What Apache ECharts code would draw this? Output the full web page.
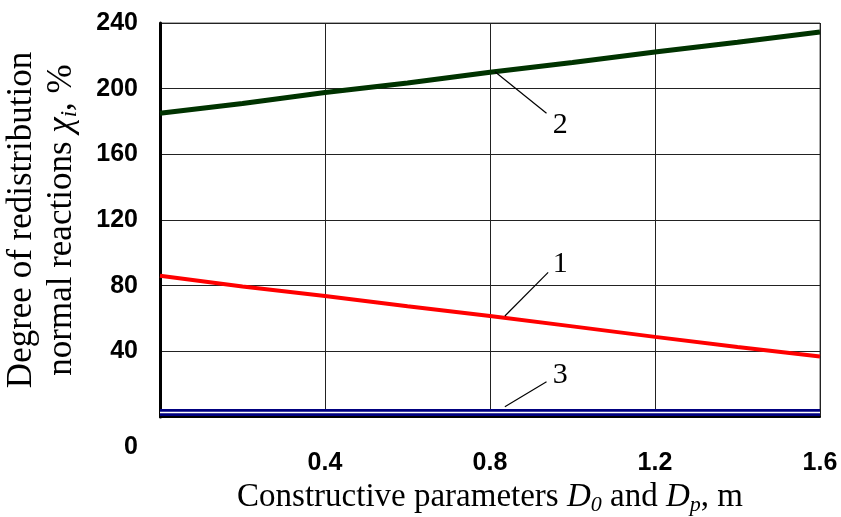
<!DOCTYPE html>
<html>
<head>
<meta charset="utf-8">
<script src="https://cdn.jsdelivr.net/npm/echarts@6/dist/echarts.min.js"></script>
<style>
html,body{margin:0;padding:0;background:#fff;}
#chart{width:841px;height:517px;}
</style>
</head>
<body>
<div id="chart"></div>
<script>
// ---- data ----
var xValues = [0, 0.2, 0.4, 0.6, 0.8, 1.0, 1.2, 1.4, 1.6];
var curve1 = [86, 79.5, 73.7, 67.5, 61.5, 55.2, 48.8, 42.7, 36.8];
var curve2 = [185, 191, 197.7, 203.5, 210, 216, 222.3, 228.3, 234.5];
var curve3 = [2.7, 2.7, 2.7, 2.7, 2.7, 2.7, 2.7, 2.7, 2.7];
var xTickLabels = {'0.4': '0.4', '0.8': '0.8', '1.2': '1.2', '1.6': '1.6'};
var yTickLabels = ['0', '40', '80', '120', '160', '200', '240'];
// leader lines for curve labels: [startX, startY, endX, endY]
var leader1 = [0.836, 61.5, 0.941, 88.1];
var leader2 = [0.812, 210.3, 0.937, 185];
var leader3 = [0.836, 6.3, 0.937, 21.5];
// curve label positions [x, y]
var tag1 = [0.970, 93.0];
var tag2 = [0.970, 177.8];
var tag3 = [0.970, 25.3];

function pairs(ys) { return xValues.map(function (x, i) { return [x, ys[i]]; }); }
function leader(l) {
  return {
    silent: true,
    symbol: ['none', 'none'],
    animation: false,
    lineStyle: { color: '#000', width: 1.2, type: 'solid' },
    label: { show: false },
    emphasis: { disabled: true },
    data: [[{ coord: [l[0], l[1]] }, { coord: [l[2], l[3]] }]]
  };
}
function tag(p, text) {
  return {
    silent: true, animation: false,
    symbol: 'circle', symbolSize: 1,
    itemStyle: { color: 'rgba(0,0,0,0)' },
    label: {
      show: true, position: 'inside', formatter: text,
      color: '#000', fontFamily: 'Liberation Serif', fontSize: 30
    },
    emphasis: { disabled: true },
    data: [{ coord: p }]
  };
}

var serif = 'Liberation Serif';
var sans = 'Liberation Sans';
var chart = echarts.init(document.getElementById('chart'));
chart.setOption({
  animation: false,
  backgroundColor: '#fff',
  grid: { left: 160, right: 21, top: 23, bottom: 100, containLabel: false, outerBoundsMode: 'none' },
  xAxis: {
    type: 'value', min: 0, max: 1.6, interval: 0.4,
    axisLine: { show: true, onZero: false, lineStyle: { color: '#000', width: 2 } },
    axisTick: { show: false },
    splitLine: { show: true, lineStyle: { color: '#222', width: 1 } },
    axisLabel: {
      margin: 34, color: '#000', fontFamily: sans, fontWeight: 'bold', fontSize: 25,
      formatter: function (v) { var k = (Math.round(v * 10) / 10).toFixed(1); return xTickLabels[k] || ''; }
    },
    name: '{a|Constructive parameters }{i|D}{s|0}{a| and }{i|D}{s|p}{a|, m}',
    nameLocation: 'middle', nameGap: 60,
    nameTextStyle: {
      rich: {
        a: { fontFamily: serif, fontSize: 33, color: '#000', verticalAlign: 'top' },
        i: { fontFamily: serif, fontSize: 33, fontStyle: 'italic', color: '#000', verticalAlign: 'top' },
        s: { fontFamily: serif, fontSize: 22, fontStyle: 'italic', color: '#000', verticalAlign: 'top', padding: [13, 0, 0, 0] }
      }
    }
  },
  yAxis: {
    type: 'value', min: 0, max: 240, interval: 40,
    axisLine: { show: true, lineStyle: { color: '#000', width: 3 } },
    axisTick: { show: false },
    splitLine: { show: true, lineStyle: { color: '#222', width: 1 } },
    axisLabel: {
      margin: 22, color: '#000', fontFamily: sans, fontWeight: 'bold', fontSize: 25,
      formatter: function (v) {
        var t = yTickLabels[Math.round(v / 40)];
        return v === 0 ? '{z|' + t + '}' : t;
      },
      rich: {
        z: { fontFamily: sans, fontWeight: 'bold', fontSize: 25, color: '#000', padding: [60, 0, 0, 0] }
      }
    },
    name: '{a|Degree of redistribution}\n{a|normal reactions }{i|χ}{s|i}{a|, %}',
    nameLocation: 'middle', nameGap: 76, nameRotate: 90,
    nameTextStyle: {
      lineHeight: 40,
      rich: {
        a: { fontFamily: serif, fontSize: 35, color: '#000', verticalAlign: 'top', lineHeight: 40 },
        i: { fontFamily: serif, fontSize: 35, fontStyle: 'italic', color: '#000', verticalAlign: 'top', lineHeight: 40 },
        s: { fontFamily: serif, fontSize: 23, fontStyle: 'italic', color: '#000', verticalAlign: 'top', padding: [14, 0, 0, 0], lineHeight: 40 }
      }
    }
  },
  series: [
    {
      name: '1', type: 'line', data: pairs(curve1), symbol: 'none', silent: true,
      lineStyle: { color: '#ff0000', width: 4 }, z: 3,
      markLine: leader(leader1), markPoint: tag(tag1, '1')
    },
    {
      name: '2', type: 'line', data: pairs(curve2), symbol: 'none', silent: true,
      lineStyle: { color: '#003300', width: 5 }, z: 3,
      markLine: leader(leader2), markPoint: tag(tag2, '2')
    },
    {
      name: '3', type: 'line', data: pairs(curve3), symbol: 'none', silent: true,
      lineStyle: { color: '#000080', width: 7 }, z: 3,
      markLine: leader(leader3), markPoint: tag(tag3, '3')
    },
    {
      name: '3-inner', type: 'line', data: pairs(curve3), symbol: 'none', silent: true,
      lineStyle: { color: '#ffffff', width: 1.6 }, z: 4
    }
  ],
  graphic: [{
    type: 'rect', silent: true, z: 0,
    shape: { x: 160, y: 23, width: 660, height: 394 },
    style: { fill: 'none', stroke: '#555', lineWidth: 1 }
  }]
});
</script>
</body>
</html>
